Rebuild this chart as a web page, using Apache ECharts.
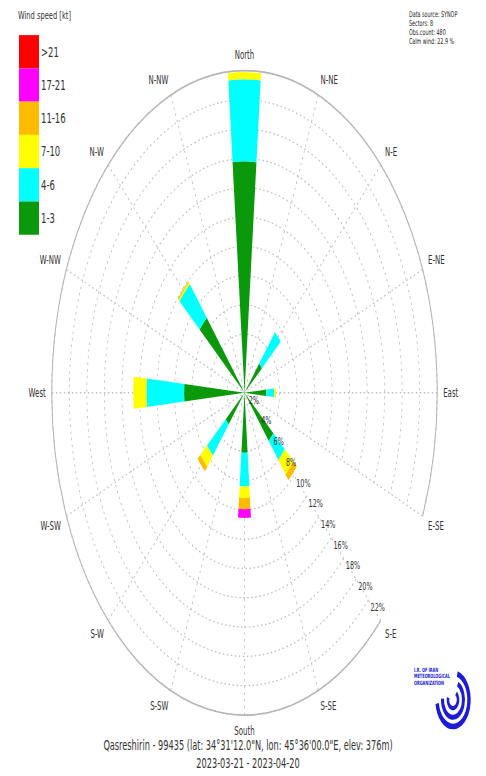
<!DOCTYPE html>
<html>
<head>
<meta charset="utf-8">
<script src="https://cdn.jsdelivr.net/npm/echarts@6/dist/echarts.min.js"></script>
<style>
  html, body { margin: 0; padding: 0; background: #fff; }
  #wrap { width: 486px; height: 776px; overflow: hidden; }
  /* the reference rose is stretched vertically, so the whole chart is scaled */
  #main { width: 486px; height: 464px; transform: scaleY(1.672); transform-origin: 0 0; }
</style>
</head>
<body>
<div id="wrap"><div id="main"></div></div>
<script>
// direction labels, clockwise from S-E (the radius axis sits on S-E)
var directions = ['S-E', 'S-SE', 'South', 'S-SW', 'S-W', 'W-SW', 'West', 'W-NW',
                  'N-W', 'N-NW', 'North', 'N-NE', 'N-E', 'E-NE', 'East', 'E-SE'];
// the 8 sectors
var sectors = ['North', 'N-E', 'East', 'S-E', 'South', 'S-W', 'West', 'N-W'];
// frequency in % per speed class, per sector
var speed1_3   = [15.8, 2.6, 2.5, 4.3, 4.1, 2.8, 6.9, 6.7];
var speed4_6   = [5.6, 2.8, 0.9, 1.7, 2.3, 2.8, 4.3, 3.0];
var speed7_10  = [0.5, 0, 0.2, 1.3, 0.8, 1.0, 1.5, 0.15];
var speed11_16 = [0, 0, 0, 0.5, 0.75, 0.4, 0, 0.1];
var speed17_21 = [0, 0, 0, 0, 0.6, 0, 0, 0];
var speedOver21 = [0, 0, 0, 0, 0, 0, 0, 0];

var classNames = ['1-3', '4-6', '7-10', '11-16', '17-21', '>21'];
var classColors = ['#0a990a', '#00ffff', '#ffff00', '#ffbb00', '#ff00ff', '#ff0000'];
var classValues = [speed1_3, speed4_6, speed7_10, speed11_16, speed17_21, speedOver21];

var infoLines = ['Data source: SYNOP', 'Sectors: 8', 'Obs.count: 480', 'Calm wind: 22.9 %'];
var footLines = ['Qasreshirin - 99435 (lat: 34\u00b031\'12.0"N, lon: 45\u00b036\'00.0"E, elev: 376m)',
                 '2023-03-21 - 2023-04-20'];

function toDirections(vals) {
  var out = directions.map(function () { return 0; });
  sectors.forEach(function (s, i) { out[directions.indexOf(s)] = vals[i]; });
  return out;
}

var font = 'DejaVu Sans';
var myChart = echarts.init(document.getElementById('main'), null, { renderer: 'svg' });

var series = classNames.map(function (name, i) {
  return {
    name: name,
    type: 'bar',
    coordinateSystem: 'polar',
    polarIndex: 0,
    stack: 'wind',
    barWidth: '44%',
    itemStyle: { color: classColors[i] },
    emphasis: { disabled: true },
    data: toDirections(classValues[i])
  };
});

var titles = [
  {
    text: 'Wind speed [kt]', left: 18, top: 5.5, padding: 0,
    textStyle: { fontSize: 6.7, fontWeight: 'normal', color: '#333', fontFamily: font }
  }
];
infoLines.forEach(function (t, i) {
  titles.push({
    text: t, left: 409, top: 6.5 + i * 5.3, padding: 0,
    textStyle: { fontSize: 4.8, lineHeight: 4.6, fontWeight: 'normal', color: '#222', fontFamily: font }
  });
});
footLines.forEach(function (t, i) {
  titles.push({
    text: t, left: 248, top: 442 + i * 10.7, padding: 0, textAlign: 'center',
    textStyle: { fontSize: 8.2, lineHeight: 8, fontWeight: 'normal', color: '#333', fontFamily: font }
  });
});

var gridLine = { color: '#bdbdbd', type: [1.5, 2.5], width: 0.8 };
var logoBlue = '#1b1bd8';

var option = {
  animation: false,
  textStyle: { fontFamily: font },
  title: titles,
  legend: {
    data: classNames.slice().reverse(),
    orient: 'vertical',
    left: 19,
    top: 21,
    padding: 0,
    itemGap: 0,
    itemWidth: 20,
    itemHeight: 19.9,
    icon: 'rect',
    selectedMode: false,
    textStyle: { fontSize: 8.5, color: '#333', fontFamily: font, padding: [0, 0, 0, -3] }
  },
  // second polar only carries the % labels above the bars
  polar: [
    { center: [244.5, 234.9], radius: 192.7 },
    { center: [244.5, 234.9], radius: 192.7 }
  ],
  angleAxis: [
    {
      polarIndex: 0,
      type: 'category',
      data: directions,
      startAngle: -45,
      boundaryGap: false,
      axisLine: { show: true, lineStyle: { color: '#b5b5b5', width: 1 } },
      axisTick: { show: false },
      axisLabel: { margin: 6, fontSize: 7, lineHeight: 7, color: '#333', fontFamily: font },
      splitLine: { show: true, lineStyle: gridLine }
    },
    {
      polarIndex: 1,
      type: 'category',
      data: directions,
      startAngle: -45,
      boundaryGap: false,
      show: false
    }
  ],
  radiusAxis: [
    {
      polarIndex: 0,
      min: 0,
      max: 22,
      interval: 2,
      axisLine: { show: false },
      axisTick: { show: false },
      axisLabel: { show: false },
      splitLine: { show: true, lineStyle: gridLine }
    },
    {
      polarIndex: 1,
      min: 0,
      max: 22,
      interval: 2,
      z: 10,
      axisLine: { show: false },
      axisTick: { show: false },
      splitLine: { show: false },
      axisLabel: {
        margin: 0,
        showMaxLabel: true,
        hideOverlap: false,
        align: 'center',
        verticalAlign: 'bottom',
        lineHeight: 8,
        padding: [0, 6, 4, 0],
        fontSize: 6.5,
        color: '#333',
        fontFamily: font,
        formatter: function (v) { return v === 0 ? '' : v + '%'; }
      }
    }
  ],
  graphic: [
    { type: 'arc', shape: { cx: 453, cy: 418.5, r: 16, startAngle: -1.3, endAngle: 3.0 },
      style: { stroke: logoBlue, lineWidth: 3.4, fill: null } },
    { type: 'arc', shape: { cx: 453, cy: 418.5, r: 10.5, startAngle: -1.1, endAngle: 3.2 },
      style: { stroke: logoBlue, lineWidth: 3, fill: null } },
    { type: 'arc', shape: { cx: 453, cy: 418.5, r: 5, startAngle: -0.9, endAngle: 3.4 },
      style: { stroke: logoBlue, lineWidth: 2.6, fill: null } },
    { type: 'text', left: 414, top: 398.5,
      style: { text: 'I.R. OF IRAN\nMETEOROLOGICAL\nORGANIZATION', fontSize: 3.5, lineHeight: 4.1,
               fill: logoBlue, fontWeight: 'bold', fontFamily: font, align: 'right' } }
  ],
  series: series
};

myChart.setOption(option);
</script>
</body>
</html>
